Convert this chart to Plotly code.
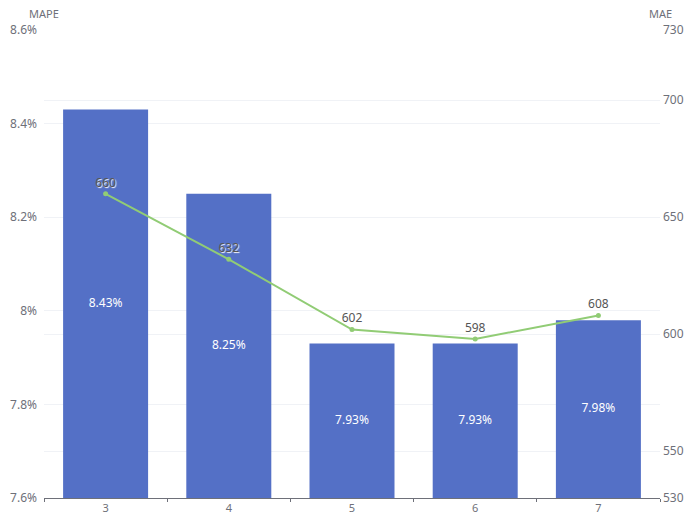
import plotly.graph_objects as go

# Window sizes and their error metrics
categories = ["3", "4", "5", "6", "7"]
mape_values = [8.43, 8.25, 7.93, 7.93, 7.98]   # percent
mae_values = [660, 632, 602, 598, 608]

left_ticks = [7.6, 7.8, 8.0, 8.2, 8.4, 8.6]
left_tick_text = ["7.6%", "7.8%", "8%", "8.2%", "8.4%", "8.6%"]
right_ticks = [530, 550, 600, 650, 700, 730]

MAPE_MIN, MAPE_MAX = 7.6, 8.6

BAR = "#5470c6"
LINE = "#91cc75"
AXIS_TEXT = "#6e7079"
FONT = "Noto Sans"

fig = go.Figure()

fig.add_trace(go.Bar(
    x=categories,
    y=mape_values,
    marker=dict(color=BAR, line=dict(width=0)),
    name="MAPE",
    yaxis="y",
    hoverinfo="x+y",
))

# value labels centred on the visible part of each bar
fig.add_trace(go.Scatter(
    x=categories,
    y=[(v + MAPE_MIN) / 2 for v in mape_values],
    mode="text",
    text=[f"{v:.2f}%" for v in mape_values],
    textposition="middle center",
    textfont=dict(color="white", size=12, family=FONT),
    yaxis="y",
    hoverinfo="skip",
))

fig.add_trace(go.Scatter(
    x=categories,
    y=mae_values,
    mode="lines+markers+text",
    line=dict(color=LINE, width=2),
    marker=dict(color=LINE, size=5),
    text=[str(v) for v in mae_values],
    textposition="top center",
    textfont=dict(color="#555555", size=12, family=FONT,
                  shadow="1px 1px 1px #ffffff"),
    name="MAE",
    yaxis="y2",
    cliponaxis=False,
))

fig.update_layout(
    width=685,
    height=516,
    margin=dict(l=44, r=25, t=30, b=18),
    paper_bgcolor="white",
    plot_bgcolor="white",
    showlegend=False,
    bargap=0.31,
    font=dict(family=FONT, size=12, color=AXIS_TEXT),
    xaxis=dict(
        type="category",
        automargin=False,
        showline=True,
        linecolor=AXIS_TEXT,
        linewidth=1,
        ticks="outside",
        tickson="boundaries",
        ticklen=3,
        tickcolor=AXIS_TEXT,
        showgrid=False,
        ticklabelstandoff=0,
        tickfont=dict(size=11, color=AXIS_TEXT),
    ),
    yaxis=dict(
        range=[MAPE_MIN, MAPE_MAX],
        automargin=False,
        tickvals=left_ticks,
        ticktext=left_tick_text,
        showgrid=True,
        gridcolor="#f0f2f6",
        zeroline=False,
        showline=False,
        tickfont=dict(size=12, color=AXIS_TEXT),
        ticklabelstandoff=6,
    ),
    yaxis2=dict(
        range=[530, 730],
        automargin=False,
        tickvals=right_ticks,
        overlaying="y",
        side="right",
        showgrid=True,
        gridcolor="#f0f2f6",
        zeroline=False,
        showline=False,
        tickfont=dict(size=12, color=AXIS_TEXT),
        ticklabelstandoff=2,
    ),
    annotations=[
        dict(text="MAPE", xref="paper", yref="paper", x=0.0, y=1.0,
             xanchor="center", yanchor="bottom", yshift=7, showarrow=False,
             font=dict(size=11, color=AXIS_TEXT, family=FONT)),
        dict(text="MAE", xref="paper", yref="paper", x=1.0, y=1.0,
             xanchor="center", yanchor="bottom", yshift=7, showarrow=False,
             font=dict(size=11, color=AXIS_TEXT, family=FONT)),
    ],
)

fig.write_html("out.html")
